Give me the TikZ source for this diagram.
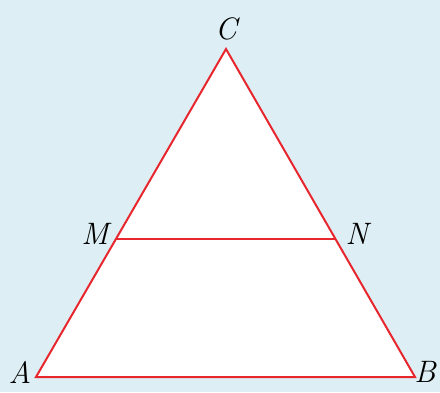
\documentclass[tikz,border=0pt]{standalone}
\usepackage{tikz}
\definecolor{bgblue}{HTML}{DDEFF4}
\definecolor{edgered}{HTML}{E8262E}
\begin{document}
\begin{tikzpicture}[x=1pt,y=-1pt, every node/.style={font=\fontsize{31}{34}\selectfont\itshape,inner sep=0pt}]
\fill[bgblue] (0,0) rectangle (440,392);
\useasboundingbox (0,0) rectangle (440,392);
\coordinate (A) at (36,377);
\coordinate (B) at (415,377);
\coordinate (C) at (226,49);
\coordinate (M) at (116,239);
\coordinate (N) at (336,239);
\fill[white] (A) -- (B) -- (C) -- cycle;
\draw[edgered,line width=2pt,line join=miter] (A) -- (B) -- (C) -- cycle;
\draw[edgered,line width=2pt] (M) -- (N);
\node (labA) at (20,372) {A};
\node (labB) at (425,372) {B};
\node (labC) at (226,29) {C};
\node (labM) at (95,234) {M};
\node (labN) at (357,234) {N};
\end{tikzpicture}
\end{document}
